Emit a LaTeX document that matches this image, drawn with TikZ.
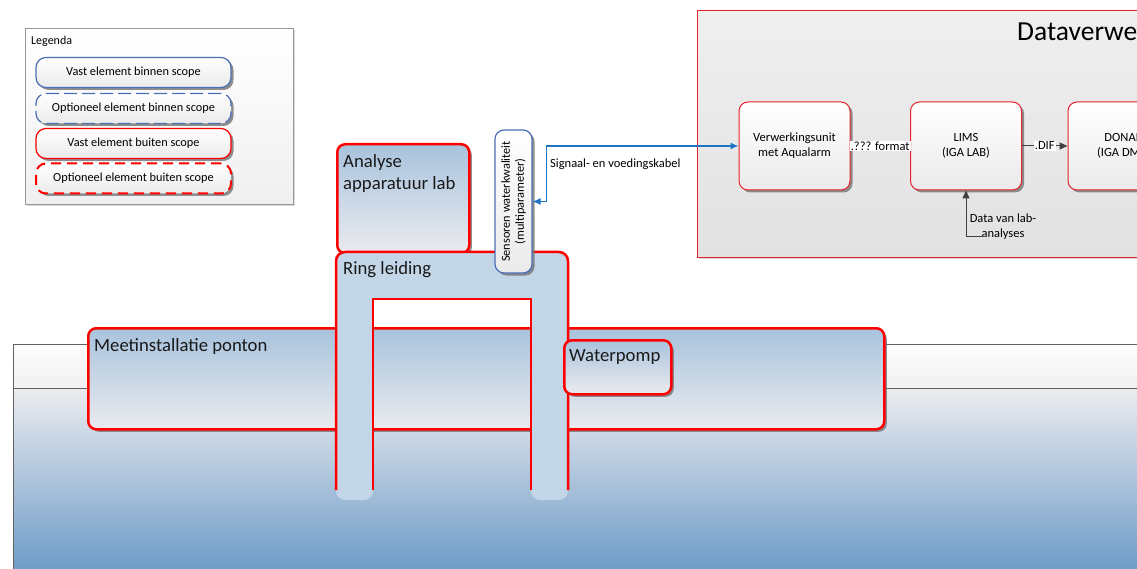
\documentclass[tikz,border=0pt]{standalone}
\usepackage{fontspec}
\setmainfont{Carlito}
\usetikzlibrary{shadows,arrows.meta}

\definecolor{bandtop}{HTML}{FDFDFD}
\definecolor{bandbot}{HTML}{F1F1F1}
\definecolor{watertop}{HTML}{ECECEF}
\definecolor{watermid}{HTML}{BFCFE0}
\definecolor{waterbot}{HTML}{6E9CC8}
\definecolor{edgegray}{HTML}{606060}
\definecolor{steeltop}{HTML}{A8C3DD}
\definecolor{steelbot}{HTML}{EBEBEF}
\definecolor{pipefill}{HTML}{C3D6E8}
\definecolor{scopered}{HTML}{FF0000}
\definecolor{thinred}{HTML}{E8222C}
\definecolor{legblue}{HTML}{4A6FB5}
\definecolor{cableblue}{HTML}{1F74C4}
\definecolor{arrowgray}{HTML}{404040}
\definecolor{panetop}{HTML}{EFEFEF}
\definecolor{panebot}{HTML}{E2E2E2}
\definecolor{cardbot}{HTML}{EAEAEA}

\newcommand{\smallfont}{\fontsize{12.5}{15}\selectfont}
\newcommand{\bigfont}{\fontsize{18.7}{22}\selectfont}

\begin{document}
\begin{tikzpicture}[x=1pt,y=-1pt,
  shade box/.style={drop shadow={shadow xshift=2.5pt,shadow yshift=-2.5pt,fill=black!55,opacity=0.8}},
  thickbox/.style={draw=scopered,line width=2.5pt,rounded corners=8pt,
    top color=steeltop,bottom color=steelbot,shade box,inner sep=0pt},
  card/.style={draw=thinred,line width=1pt,rounded corners=9pt,
    top color=white,bottom color=cardbot,shade box,
    minimum width=111pt,minimum height=88pt,align=center,font=\smallfont},
  legitem/.style={rounded corners=10pt,top color=white,bottom color=cardbot,
    shade box,minimum width=195pt,minimum height=30pt,font=\fontsize{12.3}{15}\selectfont},
  biglabel/.style={anchor=north west,inner sep=0pt,align=left,font=\bigfont,text=black!90},
  smalltext/.style={font=\smallfont,inner sep=1pt},
  grayarrow/.style={draw=arrowgray,line width=1pt,-{Triangle[length=8pt,width=7pt]}},
  cable/.style={draw=cableblue,line width=1.2pt,
    {Latex[length=8pt,width=7pt]}-{Latex[length=8pt,width=7pt]}}
]
\clip (0,0) rectangle (1137,569);
\fill[white] (0,0) rectangle (1137,569);

% water body with the pontoon deck band on top
\shade[top color=bandtop,bottom color=bandbot] (13,344) rectangle (1140,388);
\shade[top color=watertop,middle color=watermid,bottom color=waterbot] (13,388) rectangle (1140,569);
\draw[edgegray,line width=0.9pt] (1140,344) -- (13,344) -- (13,572);
\draw[edgegray,line width=0.9pt] (13,388) -- (1140,388);

% legend
\node[draw=black!40,line width=0.8pt,top color=white,bottom color=black!6,
  drop shadow={shadow xshift=2pt,shadow yshift=-2pt,fill=black!30},
  minimum width=268pt,minimum height=176pt,anchor=north west,inner sep=0pt] (legend) at (25,28) {};
\node[anchor=north west,inner sep=0pt,font=\fontsize{12}{14}\selectfont] (legendtitle) at (31,36) {Legenda};
\node[legitem,draw=legblue,line width=1.2pt] (leg1) at (133.5,72.5) {Vast element binnen scope};
\node[legitem,draw=legblue,line width=1.2pt,dash pattern=on 13pt off 5pt] (leg2) at (133.5,108.5) {Optioneel element binnen scope};
\node[legitem,draw=scopered,line width=1.2pt] (leg3) at (133.5,143.5) {Vast element buiten scope};
\node[legitem,draw=scopered,line width=2pt,dash pattern=on 10pt off 6pt] (leg4) at (133.5,178.5) {Optioneel element buiten scope};

% data processing panel
\node[draw=thinred,line width=1pt,top color=panetop,bottom color=panebot,
  drop shadow={shadow xshift=1.5pt,shadow yshift=-1.5pt,fill=black!30},
  minimum width=460pt,minimum height=247pt,anchor=north west,inner sep=0pt] (panel) at (697,10) {};
\node[anchor=west,inner sep=0pt,font=\fontsize{27.5}{32}\selectfont] (paneltitle) at (1017,33) {Dataverwerking};

\node[card] (verw) at (794.5,146) {Verwerkingsunit\\met Aqualarm};
\node[card] (lims) at (966,146) {LIMS\\(IGA LAB)};
\node[card] (donar) at (1123.5,146) {DONAR\\(IGA DMS)};

\draw[draw=arrowgray,line width=1pt] (verw.east) -- node[fill=white,smalltext] (fmt) {.??? format} (lims.west);
\draw[grayarrow] (lims.east) -- node[fill=white,smalltext] (dif) {.DIF} (donar.west);

\node[smalltext,align=center] (labdata) at (1003,227) {Data van lab-\\analyses};
\coordinate (labfeed) at (982,237);
\draw[grayarrow] (labfeed) -| (lims.south);

% pontoon
\node[thickbox,minimum width=796pt,minimum height=101pt,anchor=north west] (ponton) at (87,327) {};
\node[biglabel] (pontonlabel) at (94,338) {Meetinstallatie ponton};

% lab analysis equipment
\node[thickbox,minimum width=132pt,minimum height=109pt,anchor=north west] (analyse) at (336,143) {};
\node[biglabel] (analyselabel) at (343,154) {Analyse\\apparatuur lab};

% ring main: inverted U running down into the water
\fill[pipefill] (336,500) [rounded corners=9pt] -- (336,252) -- (568,252) -- (568,500)
  -- (531,500) [sharp corners] -- (531,299) -- (373,299) [rounded corners=9pt] -- (373,500) -- cycle;
\draw[scopered,line width=2.5pt] (336,490) [rounded corners=9pt] -- (336,252) -- (568,252) [sharp corners] -- (568,490);
\draw[scopered,line width=2.5pt] (373,490) -- (373,299) -- (531,299) -- (531,490);
\node[biglabel] (ringlabel) at (343,261) {Ring leiding};

% pump
\node[thickbox,minimum width=107pt,minimum height=54pt,anchor=north west] (pomp) at (563,339) {};
\node[biglabel] (pomplabel) at (569,349) {Waterpomp};

% water quality sensors
\node[draw=legblue,line width=1.2pt,rounded corners=9pt,top color=white,bottom color=cardbot,
  shade box,minimum width=37pt,minimum height=143pt,inner sep=0pt] (sens) at (513.5,201.5) {};
\node[rotate=90,align=center,inner sep=0pt,font=\fontsize{12.3}{14}\selectfont] (senstext) at (sens.center) {Sensoren waterkwaliteit\\(multiparameter)};

% signal and power cable
\draw[cable] (sens.east) -- ++(14,0) |- (verw.west);
\node[smalltext,anchor=west] (cablelabel) at (549,164) {Signaal- en voedingskabel};
\end{tikzpicture}
\end{document}
